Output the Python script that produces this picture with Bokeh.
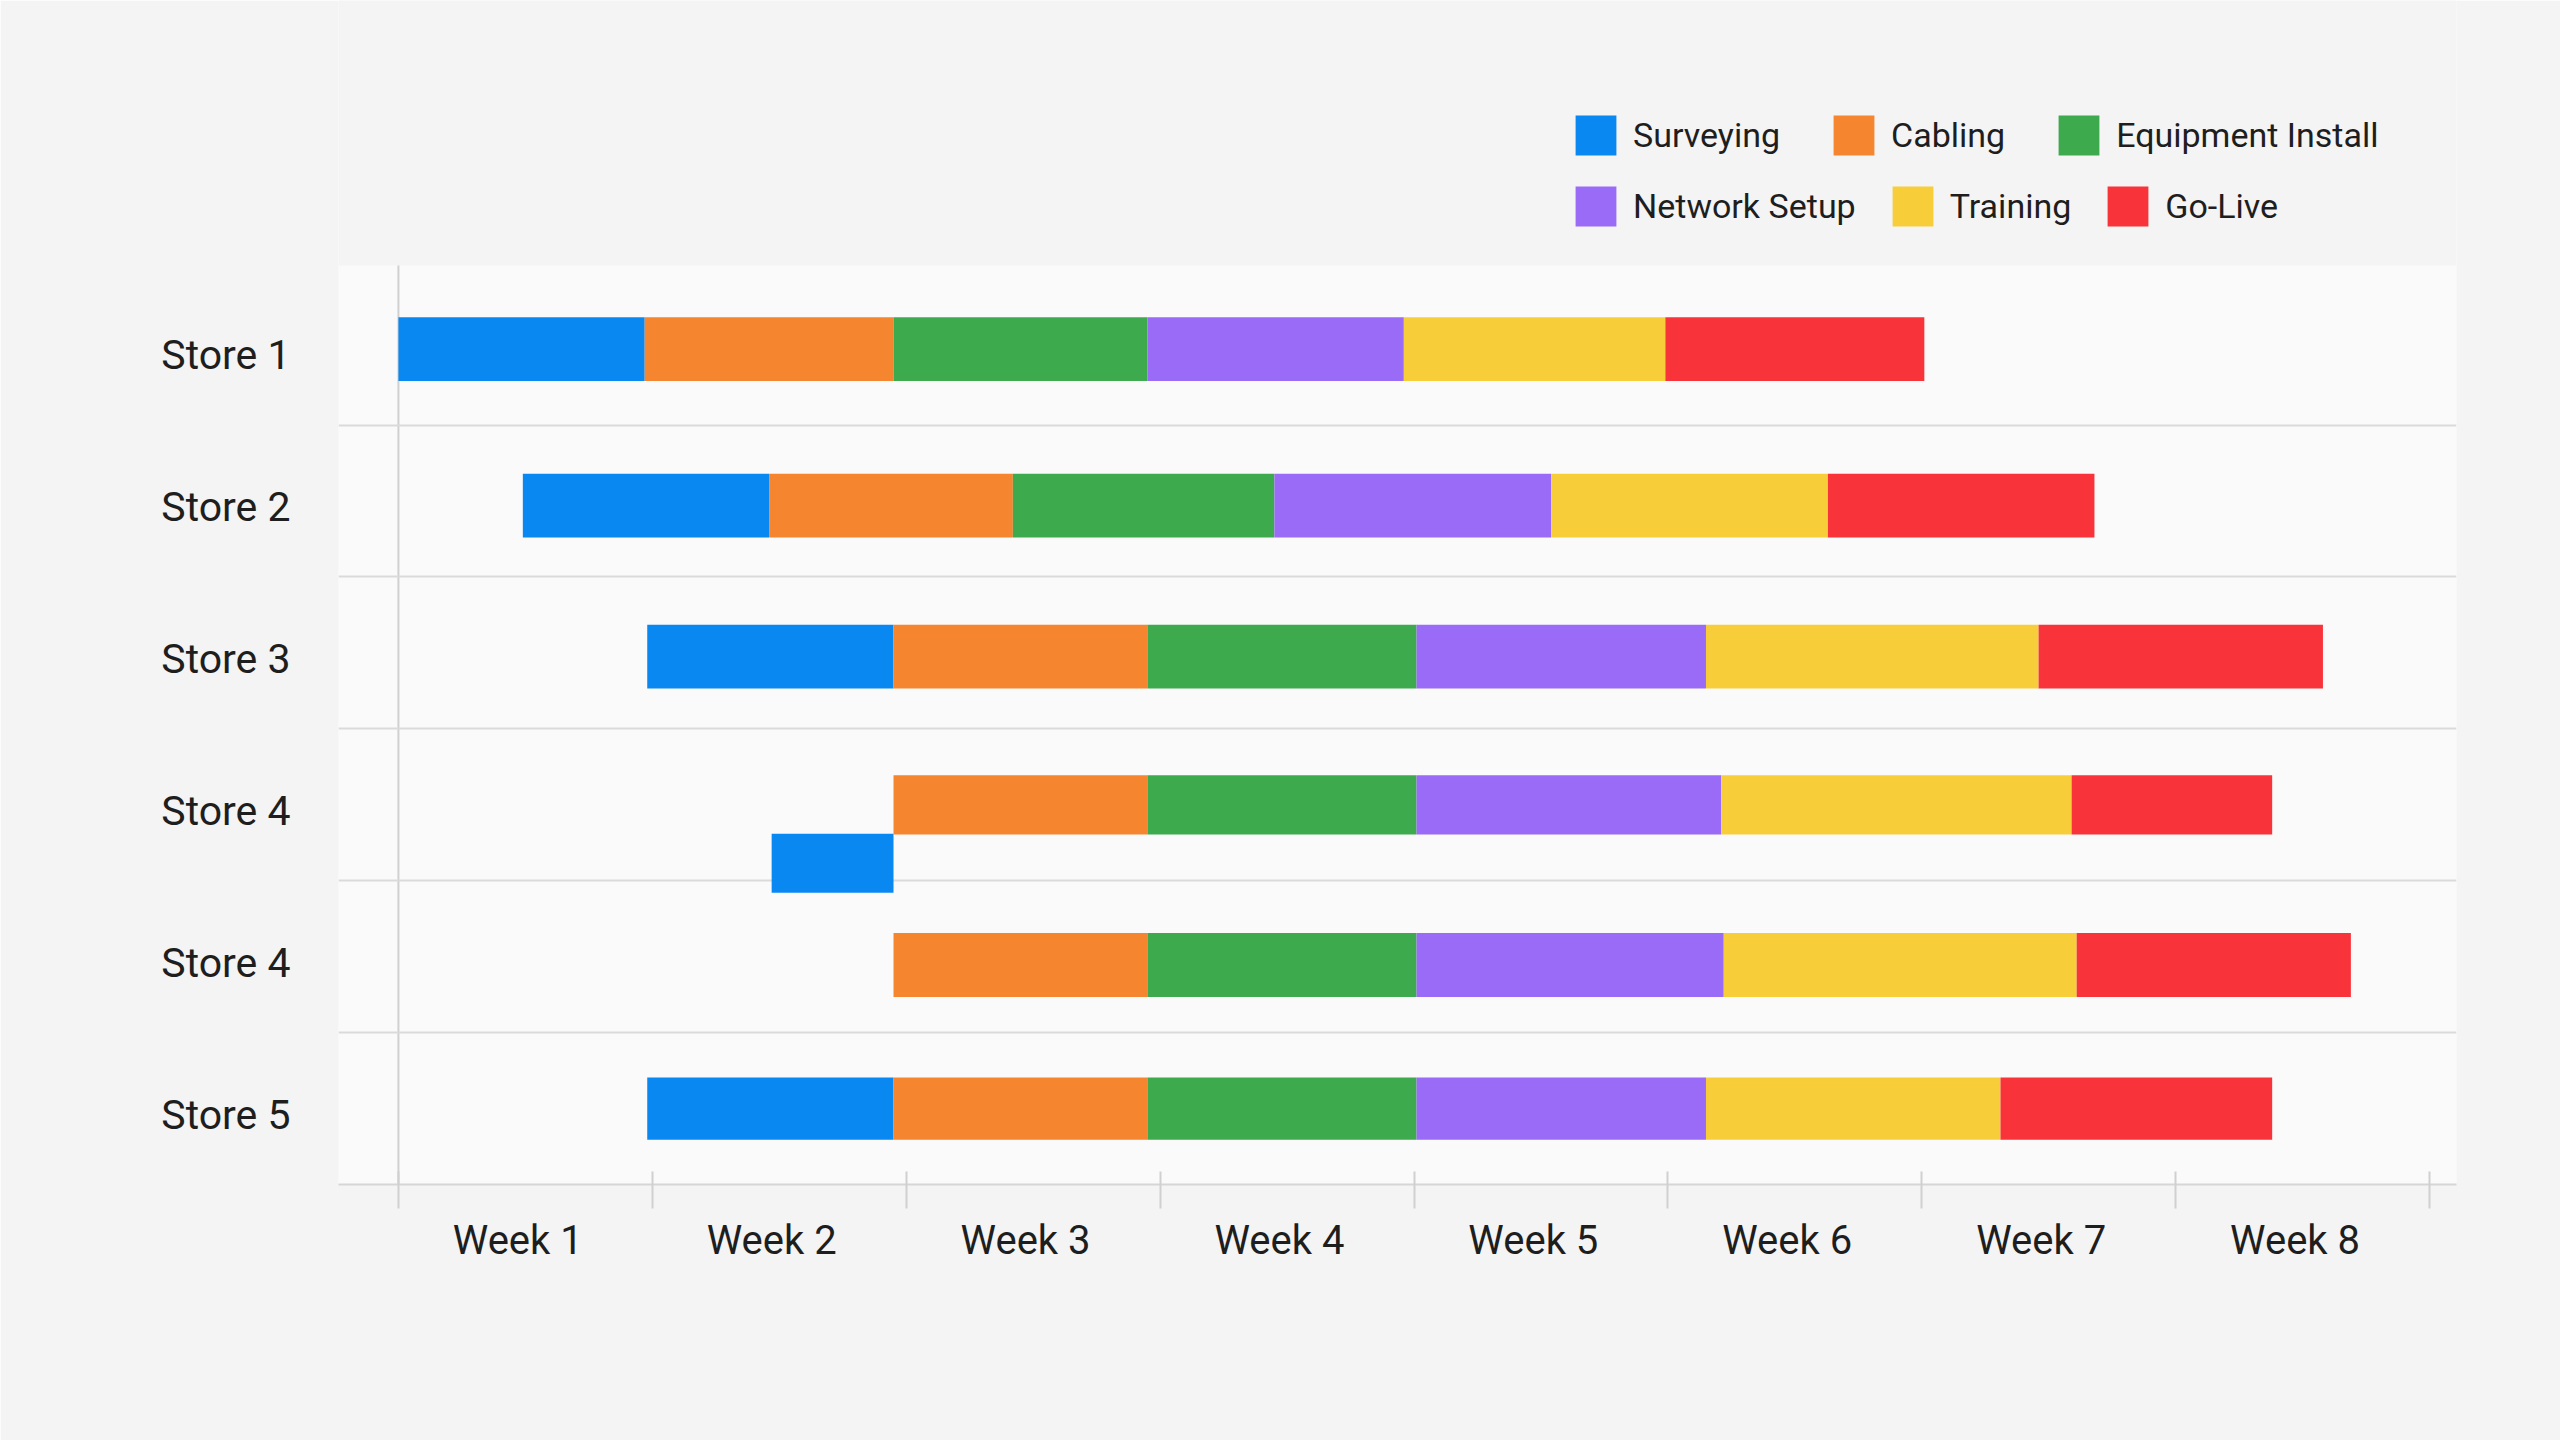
from bokeh.plotting import figure
from bokeh.models import Range1d, FixedTicker, Legend, LegendItem, ColumnDataSource, BoxAnnotation
from bokeh.embed import file_html
from bokeh.resources import INLINE

# ---------------- data ----------------
stores = ["Store 1", "Store 2", "Store 3", "Store 4", "Store 4", "Store 5"]
weeks = ["Week 1", "Week 2", "Week 3", "Week 4", "Week 5", "Week 6", "Week 7", "Week 8"]
phases = ["Surveying", "Cabling", "Equipment Install", "Network Setup", "Training", "Go-Live"]

NA = float("nan")
# start / end (in weeks from the start of Week 1) of each phase, one value per store row
surveying_start = [0.00, 0.49, 0.98, 1.47, NA, 0.98]
surveying_end   = [0.97, 1.46, 1.95, 1.95, NA, 1.95]
cabling_start   = [0.97, 1.46, 1.95, 1.95, 1.95, 1.95]
cabling_end     = [1.95, 2.42, 2.95, 2.95, 2.95, 2.95]
equipment_start = [1.95, 2.42, 2.95, 2.95, 2.95, 2.95]
equipment_end   = [2.95, 3.45, 4.01, 4.01, 4.01, 4.01]
network_start   = [2.95, 3.45, 4.01, 4.01, 4.01, 4.01]
network_end     = [3.96, 4.54, 5.15, 5.21, 5.22, 5.15]
training_start  = [3.96, 4.54, 5.15, 5.21, 5.22, 5.15]
training_end    = [4.99, 5.63, 6.46, 6.59, 6.61, 6.31]
golive_start    = [4.99, 5.63, 6.46, 6.59, 6.61, 6.31]
golive_end      = [6.01, 6.68, 7.58, 7.38, 7.69, 7.38]

phase_starts = [surveying_start, cabling_start, equipment_start, network_start, training_start, golive_start]
phase_ends = [surveying_end, cabling_end, equipment_end, network_end, training_end, golive_end]

# ---------------- style / layout ----------------
colors = ["#0A88F2", "#F5852F", "#3DAA4E", "#9A6BF6", "#F7CE3A", "#F8333A"]
row_bar_height = [0.42, 0.42, 0.42, 0.39, 0.42, 0.41]
row_nudge = [0.0, 0.03, 0.025, 0.0, 0.055, 0.0]
# the first "Store 4" row has its surveying bar dropped into a lower lane
surveying_lane_offset = [0, 0, 0, 0.385, 0, 0]
TEXT = "#1E1E1E"
FONT = "Roboto"
PLOT_TOP = -0.55   # top of the chart body (in row units)
PLOT_BOTTOM = 5.5

p = figure(width=2560, height=1440,
           x_range=Range1d(-0.236, 8.106), y_range=Range1d(5.5, -2.295),
           output_backend="svg", toolbar_location=None,
           min_border_left=338, min_border_right=104, min_border_top=0, min_border_bottom=256,
           background_fill_color="#F4F4F4", border_fill_color="#F4F4F4",
           outline_line_color=None)

# lighter chart body, drawn beneath the grid
p.add_layout(BoxAnnotation(top=PLOT_TOP, bottom=PLOT_BOTTOM, fill_color="#FAFAFA", fill_alpha=1,
                           line_color=None, level="image"))

renderers = []
rows = list(range(len(stores)))
for i, ph in enumerate(phases):
    ys = [r + row_nudge[r] + (surveying_lane_offset[r] if i == 0 else 0) for r in rows]
    hs = [row_bar_height[r] for r in rows]
    src = ColumnDataSource(dict(y=ys, left=phase_starts[i], right=phase_ends[i], h=hs))
    rr = p.hbar(y="y", left="left", right="right", height="h", source=src,
                fill_color=colors[i], line_color=None)
    renderers.append(rr)

# vertical axis line at the start of Week 1
p.segment(x0=[0], y0=[PLOT_TOP], x1=[0], y1=[PLOT_BOTTOM], line_color="#D0D0D0", line_width=2,
          level="underlay")

# x axis: labels centred in each week, ticks at week boundaries
p.xaxis.ticker = FixedTicker(ticks=[k + 0.47 for k in range(len(weeks))],
                             minor_ticks=list(range(len(weeks) + 1)))
p.xaxis.major_label_overrides = {k + 0.47: w for k, w in enumerate(weeks)}
p.xaxis.major_tick_in = 0
p.xaxis.major_tick_out = 0
p.xaxis.minor_tick_in = 13
p.xaxis.minor_tick_out = 24
p.xaxis.minor_tick_line_color = "#D0D0D0"
p.xaxis.minor_tick_line_width = 2
p.xaxis.axis_line_color = "#D6D6D6"
p.xaxis.axis_line_width = 2
p.xaxis.major_label_standoff = 8
p.xaxis.major_label_text_font = FONT
p.xaxis.major_label_text_font_size = "40px"
p.xaxis.major_label_text_color = TEXT

ytick = [r + 0.04 for r in rows]
p.yaxis.ticker = FixedTicker(ticks=ytick)
p.yaxis.major_label_overrides = {t: s for t, s in zip(ytick, stores)}
p.yaxis.major_tick_in = 0
p.yaxis.major_tick_out = 0
p.yaxis.minor_tick_in = 0
p.yaxis.minor_tick_out = 0
p.yaxis.axis_line_color = None
p.yaxis.major_label_standoff = 48
p.yaxis.major_label_text_font = FONT
p.yaxis.major_label_text_font_size = "41px"
p.yaxis.major_label_text_color = TEXT

p.xgrid.visible = False
p.ygrid.ticker = FixedTicker(ticks=[r + 0.5 for r in rows[:-1]])
p.ygrid.grid_line_color = "#DADADA"
p.ygrid.grid_line_width = 2


def make_legend(idx, loc, spacing):
    return Legend(items=[LegendItem(label=phases[i], renderers=[renderers[i]]) for i in idx],
                  orientation="horizontal", location=loc,
                  label_text_font=FONT, label_text_font_size="34px", label_text_color=TEXT,
                  glyph_width=51, glyph_height=50, label_height=50, label_standoff=12,
                  spacing=spacing, padding=0, margin=0,
                  border_line_color=None, background_fill_alpha=0)

p.add_layout(make_legend([0, 1, 2], (1232, 1024), 48))
p.add_layout(make_legend([3, 4, 5], (1232, 953), 31))

open("out.html", "w").write(file_html(p, INLINE))
